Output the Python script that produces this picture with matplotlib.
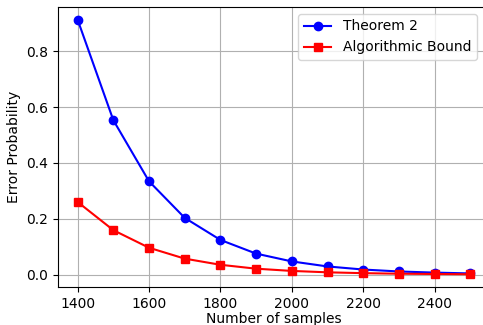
import matplotlib
matplotlib.use("Agg")
import matplotlib.pyplot as plt

samples = [1400, 1500, 1600, 1700, 1800, 1900, 2000, 2100, 2200, 2300, 2400, 2500]
theorem2 = [0.913, 0.553, 0.334, 0.203, 0.124, 0.075, 0.047, 0.029, 0.018, 0.011, 0.007, 0.004]
algo_bound = [0.260, 0.159, 0.096, 0.057, 0.035, 0.021, 0.013, 0.008, 0.005, 0.003, 0.002, 0.001]

fig = plt.figure(figsize=(4.83, 3.25), dpi=100)
ax = fig.add_axes([58/483, 38/325, 432/483, 280/325])

ax.plot(samples, theorem2, color="blue", marker="o", label="Theorem 2")
ax.plot(samples, algo_bound, color="red", marker="s", label="Algorithmic Bound")

ax.set_xlabel("Number of samples", labelpad=1)
ax.set_ylabel("Error Probability")
ax.set_xticks([1400, 1600, 1800, 2000, 2200, 2400])
ax.set_yticks([0.0, 0.2, 0.4, 0.6, 0.8])
ax.grid(True)
ax.legend(loc="upper right", bbox_to_anchor=(0.985, 1.0))

fig.savefig("out.png", dpi=100)
